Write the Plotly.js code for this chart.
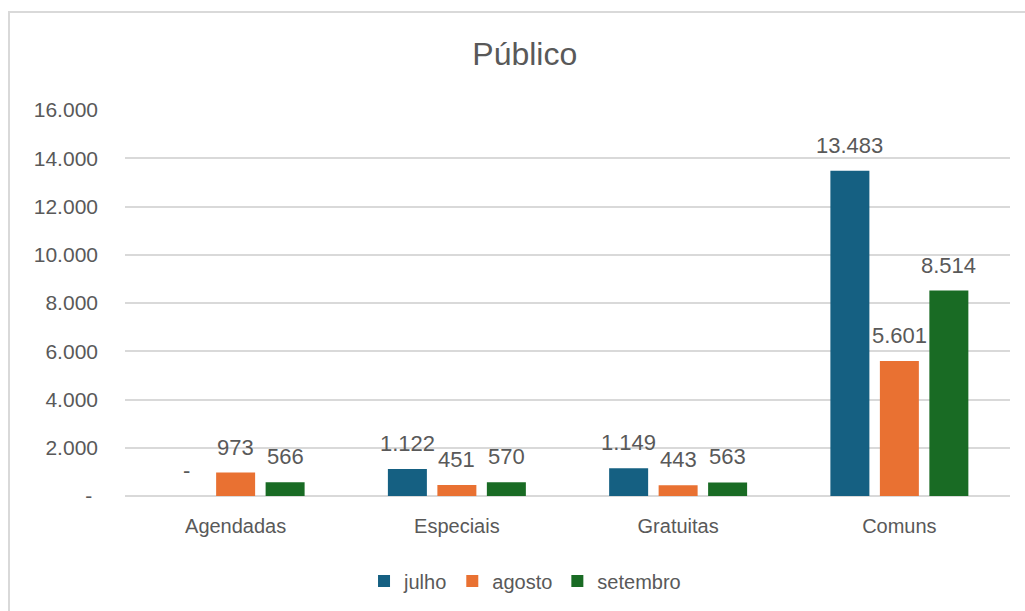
<!DOCTYPE html>
<html>
<head>
<meta charset="utf-8">
<script src="https://cdn.plot.ly/plotly-3.0.1.min.js"></script>
<style>
  html, body { margin: 0; padding: 0; background: #ffffff; overflow: hidden; width: 1025px; height: 611px; }
  #frame { position: absolute; left: 8px; top: 11px; width: 1100px; height: 700px; border: 2px solid #d9d9d9; box-sizing: border-box; }
  #chart { position: absolute; left: 0; top: 0; width: 1025px; height: 611px; }
</style>
</head>
<body>
<div id="frame"></div>
<div id="chart"></div>
<script>
// ---- data ----
const categories = ['Agendadas', 'Especiais', 'Gratuitas', 'Comuns'];
const seriesNames = ['julho', 'agosto', 'setembro'];
const julho = [0, 1122, 1149, 13483];
const agosto = [973, 451, 443, 5601];
const setembro = [566, 570, 563, 8514];
const yTickVals = [0, 2000, 4000, 6000, 8000, 10000, 12000, 14000, 16000];

// ---- styles ----
const colors = ['#156082', '#E97132', '#196B24'];
const textColor = '#595959';
const fontFamily = '"Liberation Sans", Arial, sans-serif';

function fmt(v) {
  if (v === 0) return '-';
  return String(v).replace(/\B(?=(\d{3})+(?!\d))/g, '.');
}

const seriesValues = [julho, agosto, setembro];

const traces = seriesValues.map((vals, i) => ({
  type: 'bar',
  name: seriesNames[i],
  x: categories,
  y: vals,
  marker: { color: colors[i], line: { width: 0 } },
  hoverinfo: 'skip'
}));

const slot = 49.5;
const annotations = [];
seriesValues.forEach((vals, i) => {
  vals.forEach((v, j) => {
    annotations.push({
      x: categories[j],
      y: v,
      xref: 'x',
      yref: 'y',
      text: fmt(v),
      showarrow: false,
      xanchor: 'center',
      yanchor: 'bottom',
      xshift: (i - 1) * slot,
      yshift: 11,
      font: { family: fontFamily, size: 22, color: textColor }
    });
  });
});

const layout = {
  width: 1025,
  height: 611,
  margin: { l: 125, r: 15, t: 110, b: 114, pad: 0 },
  paper_bgcolor: 'rgba(0,0,0,0)',
  plot_bgcolor: 'rgba(0,0,0,0)',
  font: { family: fontFamily, color: textColor },
  title: {
    text: 'Público',
    font: { family: fontFamily, size: 32, color: textColor },
    xref: 'container', x: 0.512, xanchor: 'center',
    yref: 'container', y: 0.912, yanchor: 'middle'
  },
  barmode: 'group',
  bargap: 0.329,
  bargroupgap: 0.212,
  xaxis: {
    type: 'category',
    showgrid: false,
    showline: false,
    zeroline: false,
    ticks: '',
    ticklabelstandoff: 16,
    tickfont: { family: fontFamily, size: 20, color: textColor },
    fixedrange: true
  },
  yaxis: {
    range: [0, 16000],
    tickmode: 'array',
    tickvals: yTickVals,
    ticktext: yTickVals.map(v => v === 0 ? '-\u00a0' : fmt(v)),
    showgrid: true,
    gridcolor: '#d9d9d9',
    gridwidth: 2,
    zeroline: true,
    zerolinecolor: '#d9d9d9',
    zerolinewidth: 2,
    showline: false,
    ticks: '',
    ticklabelstandoff: 26,
    tickfont: { family: fontFamily, size: 21, color: textColor },
    fixedrange: true
  },
  showlegend: true,
  legend: {
    orientation: 'h',
    x: 0.452, xanchor: 'center',
    y: -0.217, yanchor: 'middle',
    font: { family: fontFamily, size: 20, color: textColor },
    itemclick: false,
    itemdoubleclick: false,
    bgcolor: 'rgba(0,0,0,0)'
  },
  annotations: annotations
};

Plotly.newPlot('chart', traces, layout, { displayModeBar: false, staticPlot: true });
</script>
</body>
</html>
